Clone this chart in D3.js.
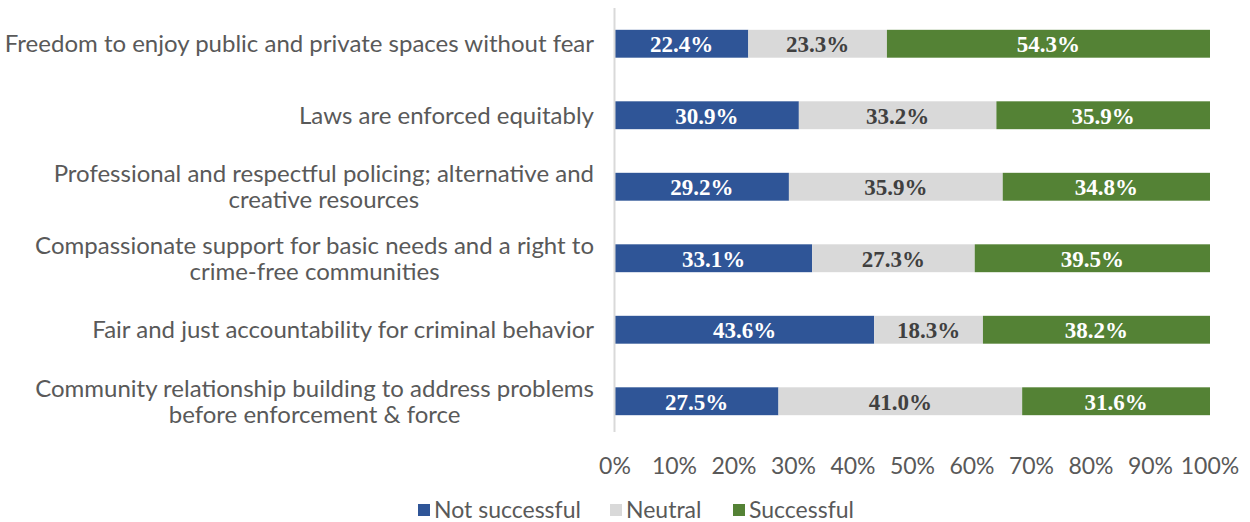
<!DOCTYPE html>
<html>
<head>
<meta charset="utf-8">
<script src="https://cdn.jsdelivr.net/npm/d3@7"></script>
<style>
  body { margin: 0; background: #fff; }
  text { font-family: Lato, "Open Sans", sans-serif; }
</style>
</head>
<body>
<script>
// categories, top to bottom (wrapped lines as sub-arrays)
var categories = [
    ["Freedom to enjoy public and private spaces without fear"],
    ["Laws are enforced equitably"],
    ["Professional and respectful policing; alternative and", "creative resources"],
    ["Compassionate support for basic needs and a right to", "crime-free communities"],
    ["Fair and just accountability for criminal behavior"],
    ["Community relationship building to address problems", "before enforcement & force"]
];
var seriesNames = ["Not successful", "Neutral", "Successful"];
var notSuccessful = [22.4, 30.9, 29.2, 33.1, 43.6, 27.5];
var neutral       = [23.3, 33.2, 35.9, 27.3, 18.3, 41.0];
var successful    = [54.3, 35.9, 34.8, 39.5, 38.2, 31.6];
var tickValues = [0, 10, 20, 30, 40, 50, 60, 70, 80, 90, 100];

var colors = ["#2F5597", "#D9D9D9", "#548235"];
var labelColors = ["#fff", "#404040", "#fff"];

var w = 1250, h = 522;
var plotLeft = 615, plotRight = 1210, plotTop = 8, plotBottom = 437;

var svg = d3.select("body").append("svg")
    .attr("width", w)
    .attr("height", h);

var x = d3.scaleLinear().domain([0, 100]).range([plotLeft, plotRight]);
var y = d3.scaleBand().domain(d3.range(categories.length))
    .range([plotTop, plotBottom]).paddingInner(0.61).paddingOuter(0.305);

// build rows of stacked data
var rows = categories.map(function(c, i) {
    return { i: i, vals: [notSuccessful[i], neutral[i], successful[i]] };
});

var rowG = svg.selectAll("g.row").data(rows).enter().append("g")
    .attr("class", "row")
    .attr("transform", function(d) { return "translate(0," + y(d.i) + ")"; });

rowG.each(function(d) {
    var g = d3.select(this);
    var total = d3.sum(d.vals);
    var acc = 0;
    d.vals.forEach(function(v, k) {
        var x0 = acc / total * 100, x1 = (acc + v) / total * 100;
        acc += v;
        g.append("rect")
            .attr("x", x(x0))
            .attr("y", 0)
            .attr("width", x(x1) - x(x0))
            .attr("height", y.bandwidth())
            .attr("fill", colors[k]);
        g.append("text")
            .attr("x", (x(x0) + x(x1)) / 2)
            .attr("y", y.bandwidth() / 2)
            .attr("dy", "0.36em")
            .attr("text-anchor", "middle")
            .attr("font-weight", "bold")
            .attr("font-size", "23px")
            .style("font-family", "'Liberation Serif', 'Times New Roman', serif")
            .attr("fill", labelColors[k])
            .text(v.toFixed(1) + "%");
    });
});

// vertical axis line
svg.append("line")
    .attr("x1", plotLeft - 0.5).attr("x2", plotLeft - 0.5)
    .attr("y1", plotTop).attr("y2", plotBottom - 5)
    .attr("stroke", "#D9D9D9")
    .attr("stroke-width", 2);

// category labels (right aligned block, lines centered within block)
svg.selectAll("g.cat").data(categories).enter().append("g")
    .attr("class", "cat")
    .each(function(lines, i) {
        var g = d3.select(this);
        var cy = y(i) + y.bandwidth() / 2;
        var lh = 26;
        var texts = lines.map(function(line, j) {
            return g.append("text")
                .attr("y", cy + (j - (lines.length - 1) / 2) * lh)
                .attr("dy", "0.35em")
                .attr("font-size", "24px")
                .attr("fill", "#595959")
                .text(line);
        });
        var widths = texts.map(function(t) { return t.node().getComputedTextLength(); });
        var bw = d3.max(widths);
        var cx = 594 - bw / 2;
        texts.forEach(function(t) {
            t.attr("x", cx).attr("text-anchor", "middle");
        });
    });

// x axis tick labels
svg.selectAll("text.tick").data(tickValues).enter().append("text")
    .attr("class", "tick")
    .attr("x", function(d) { return x(d); })
    .attr("y", 466)
    .attr("dy", "0.35em")
    .attr("text-anchor", "middle")
    .attr("font-size", "23px")
    .attr("fill", "#595959")
    .text(function(d) { return d + "%"; });

// legend
var legendX = [418, 610, 733];
var lg = svg.selectAll("g.legend").data(seriesNames).enter().append("g")
    .attr("class", "legend")
    .attr("transform", function(d, i) { return "translate(" + legendX[i] + ",510)"; });
lg.append("rect")
    .attr("x", 0).attr("y", -6)
    .attr("width", 12).attr("height", 12)
    .attr("fill", function(d, i) { return colors[i]; });
lg.append("text")
    .attr("x", 16)
    .attr("dy", "0.35em")
    .attr("font-size", "23px")
    .attr("fill", "#595959")
    .text(function(d) { return d; });
</script>
</body>
</html>
